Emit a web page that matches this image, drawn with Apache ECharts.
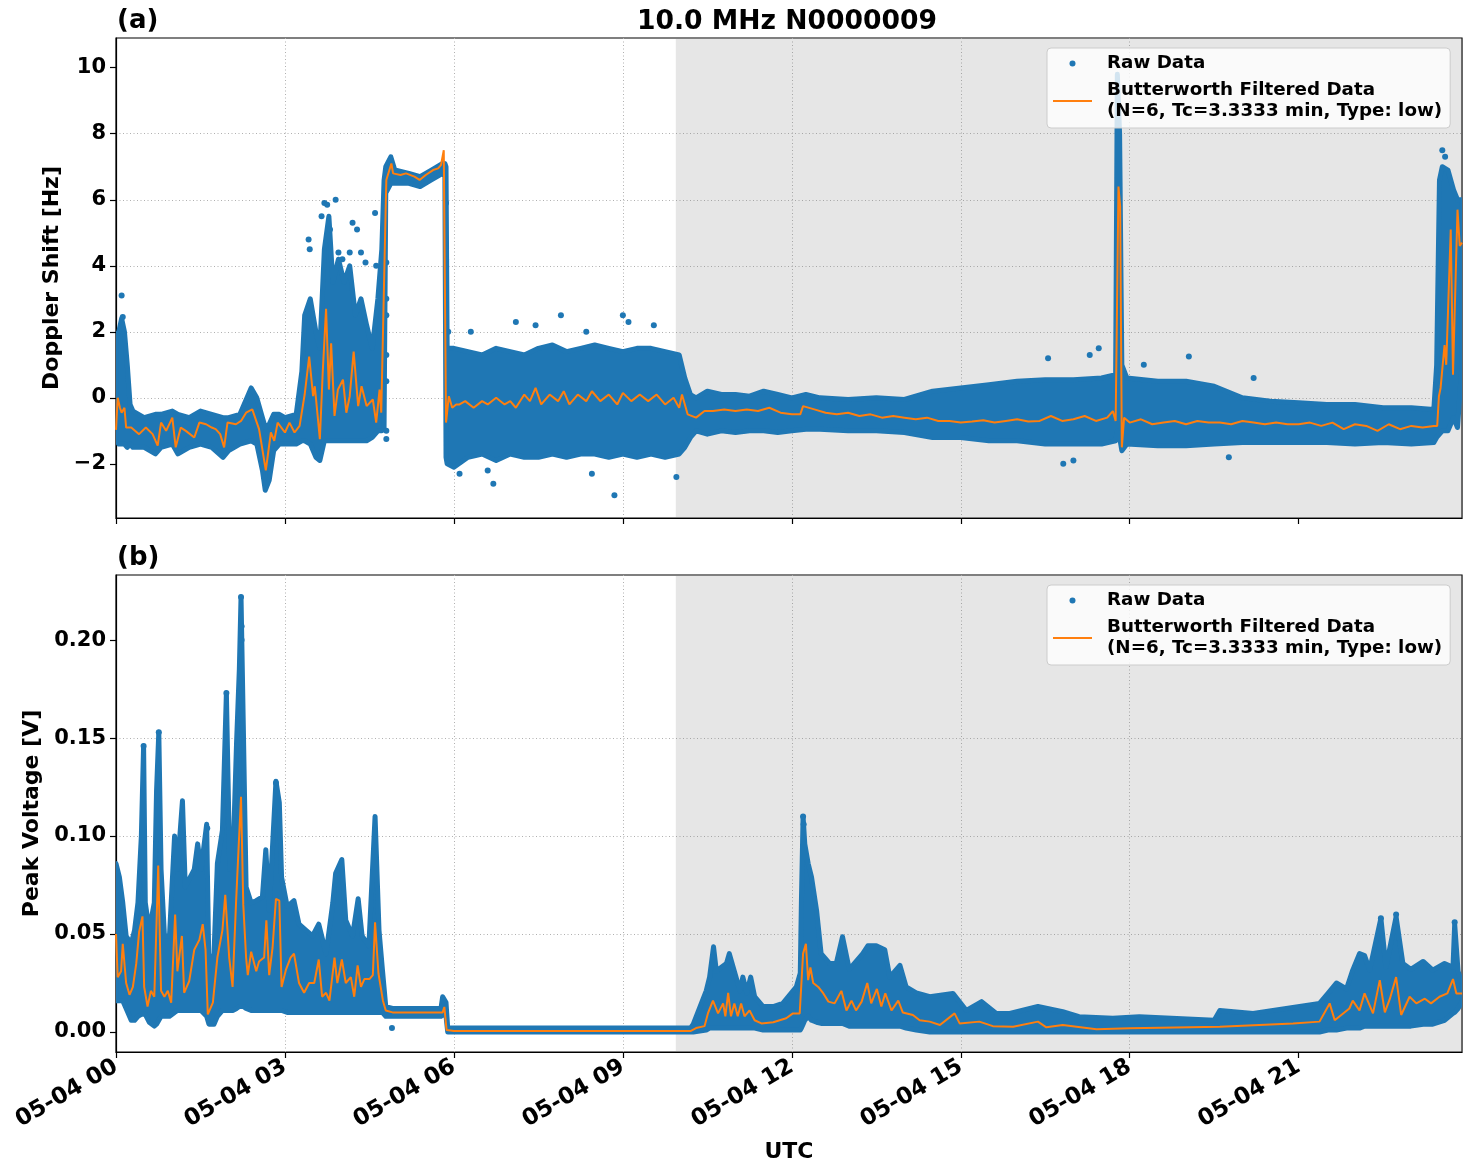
<!DOCTYPE html>
<html>
<head>
<meta charset="utf-8">
<script src="https://cdn.jsdelivr.net/npm/echarts@6/dist/echarts.min.js"></script>
<style>
  html, body { margin: 0; padding: 0; background: #fff; }
  #chart { width: 1472px; height: 1172px; }
</style>
</head>
<body>
<div id="chart"></div>
<script>
// time is in hours after 05-04 00:00 UTC
const tEnd = 23.9
const nightEnd = 9.94   // start of the grey band
const hourTicks = [0, 3, 6, 9, 12, 15, 18, 21]
const dopplerTicks = [-2, 0, 2, 4, 6, 8, 10]
const voltTicks = [0, 0.05, 0.10, 0.15, 0.20]

// (a) raw doppler: envelope of the dense dots (time, low, high)
const rawTimeA = [0.00, 0.05, 0.10, 0.15, 0.20, 0.25, 0.30, 0.50, 0.70, 0.80, 1.00, 1.10, 1.30, 1.50, 1.70, 1.90, 2.00, 2.20, 2.40, 2.50, 2.60, 2.65, 2.72, 2.80, 2.90, 3.00, 3.20, 3.30, 3.35, 3.45, 3.55, 3.62, 3.70, 3.78, 3.85, 3.95, 4.05, 4.15, 4.25, 4.35, 4.45, 4.55, 4.65, 4.72, 4.76, 4.79, 4.88, 4.95, 5.20, 5.40, 5.60, 5.80, 5.84, 5.86, 5.88, 6.00, 6.25, 6.50, 6.75, 7.00, 7.25, 7.50, 7.75, 8.00, 8.25, 8.50, 8.75, 9.00, 9.25, 9.50, 9.75, 10.00, 10.10, 10.20, 10.30, 10.50, 10.75, 11.00, 11.25, 11.50, 11.75, 12.00, 12.25, 12.50, 13.00, 13.50, 14.00, 14.50, 15.00, 15.50, 16.00, 16.50, 17.00, 17.50, 17.75, 17.78, 17.82, 17.86, 17.95, 18.50, 19.00, 19.50, 20.00, 20.50, 21.00, 21.50, 22.00, 22.50, 23.00, 23.40, 23.45, 23.50, 23.55, 23.65, 23.75, 23.82, 23.90]
const rawLowA = [-1.3, -1.4, -1.4, -1.4, -1.5, -1.4, -1.5, -1.5, -1.7, -1.5, -1.4, -1.7, -1.5, -1.4, -1.5, -1.8, -1.6, -1.4, -1.3, -1.4, -2.2, -2.8, -2.5, -1.6, -1.4, -1.4, -1.4, -1.3, -1.3, -1.4, -1.8, -1.9, -1.3, -1.3, -1.3, -1.3, -1.3, -1.3, -1.3, -1.3, -1.3, -1.2, -1.0, -1.0, -0.9, 6.2, 6.5, 6.5, 6.5, 6.4, 6.6, 6.8, 6.7, -1.8, -2.0, -2.1, -1.8, -1.7, -1.9, -1.7, -1.8, -1.8, -1.7, -1.8, -1.7, -1.7, -1.8, -1.7, -1.8, -1.7, -1.8, -1.7, -1.5, -1.2, -1.0, -1.1, -1.0, -1.05, -1.0, -1.0, -1.05, -1.0, -0.95, -0.95, -1.0, -1.0, -1.05, -1.2, -1.2, -1.3, -1.3, -1.4, -1.4, -1.4, -1.3, -1.0, -1.2, -1.6, -1.4, -1.45, -1.45, -1.4, -1.35, -1.35, -1.35, -1.35, -1.4, -1.35, -1.4, -1.35, -1.2, -1.1, -1.0, -1.0, -0.6, -0.9, 1.0]
const rawHighA = [1.9, 2.0, 2.4, 2.0, 1.0, -0.2, -0.4, -0.6, -0.5, -0.5, -0.4, -0.5, -0.6, -0.4, -0.5, -0.6, -0.6, -0.5, 0.3, 0.0, -0.6, -0.9, -0.8, -0.5, -0.5, -0.6, -0.5, 0.8, 2.5, 3.0, 2.0, 1.5, 4.5, 5.5, 3.5, 4.2, 3.5, 4.0, 2.5, 3.0, 2.2, 1.5, 3.0, 4.5, 6.6, 7.0, 7.3, 6.9, 6.8, 6.7, 6.9, 7.1, 7.1, 7.0, 1.5, 1.5, 1.4, 1.3, 1.5, 1.4, 1.3, 1.5, 1.6, 1.4, 1.5, 1.6, 1.5, 1.4, 1.5, 1.5, 1.4, 1.3, 0.6, 0.1, 0.0, 0.2, 0.1, 0.1, 0.05, 0.2, 0.1, 0.0, 0.1, 0.0, -0.05, 0.0, -0.05, 0.2, 0.3, 0.4, 0.5, 0.55, 0.55, 0.6, 0.7, 9.8, 8.0, 1.0, 0.6, 0.5, 0.5, 0.35, 0.0, -0.1, -0.15, -0.2, -0.2, -0.3, -0.3, -0.35, 1.0, 6.6, 7.0, 6.9, 6.3, 6.0, 6.0]
// (a) isolated raw dots outside the envelope
const rawDotsA = [[0.10, 3.1], [0.12, 2.45], [3.42, 4.8], [3.44, 4.5], [3.65, 5.5], [3.70, 5.9], [3.75, 5.85], [3.80, 5.1], [3.90, 6.0], [3.95, 4.4], [4.02, 4.2], [4.15, 4.4], [4.20, 5.3], [4.28, 5.1], [4.35, 4.4], [4.43, 4.1], [4.60, 5.6], [4.62, 4.0], [4.80, 4.1], [4.80, 3.0], [4.80, 2.5], [4.80, 1.3], [4.80, 0.5], [4.80, -1.0], [4.80, -1.25], [5.86, 5.9], [5.86, 4.2], [5.86, 2.3], [5.90, 2.0], [6.30, 2.0], [6.10, -2.3], [6.60, -2.2], [6.70, -2.6], [7.10, 2.3], [7.45, 2.2], [7.90, 2.5], [8.35, 2.0], [8.45, -2.3], [8.85, -2.95], [9.00, 2.5], [9.10, 2.3], [9.55, 2.2], [9.95, -2.4], [16.55, 1.2], [16.82, -2.0], [17.29, 1.3], [17.45, 1.5], [17.00, -1.9], [18.25, 1.0], [19.05, 1.25], [19.76, -1.8], [20.20, 0.6], [23.55, 7.5], [23.60, 7.3]]

// (a) Butterworth filtered doppler
const filtTimeA = [0.00, 0.03, 0.07, 0.10, 0.15, 0.18, 0.27, 0.41, 0.53, 0.65, 0.74, 0.80, 0.89, 1.00, 1.06, 1.15, 1.24, 1.39, 1.48, 1.60, 1.70, 1.77, 1.85, 1.92, 1.98, 2.13, 2.22, 2.31, 2.42, 2.54, 2.66, 2.75, 2.81, 2.87, 3.00, 3.08, 3.17, 3.26, 3.35, 3.43, 3.50, 3.53, 3.62, 3.67, 3.73, 3.78, 3.82, 3.88, 3.94, 4.03, 4.09, 4.15, 4.22, 4.30, 4.36, 4.45, 4.56, 4.62, 4.68, 4.71, 4.77, 4.80, 4.89, 4.92, 5.05, 5.15, 5.30, 5.39, 5.50, 5.63, 5.72, 5.77, 5.82, 5.86, 5.91, 5.97, 6.04, 6.10, 6.20, 6.35, 6.50, 6.60, 6.75, 6.90, 7.00, 7.10, 7.25, 7.35, 7.45, 7.55, 7.70, 7.85, 7.95, 8.05, 8.20, 8.35, 8.45, 8.60, 8.75, 8.90, 9.00, 9.15, 9.30, 9.45, 9.60, 9.75, 9.90, 10.00, 10.05, 10.15, 10.30, 10.45, 10.60, 10.80, 11.00, 11.20, 11.40, 11.60, 11.80, 12.00, 12.15, 12.20, 12.40, 12.60, 12.80, 13.00, 13.20, 13.40, 13.60, 13.80, 14.00, 14.20, 14.40, 14.60, 14.80, 15.00, 15.20, 15.40, 15.60, 15.80, 16.00, 16.20, 16.40, 16.60, 16.80, 17.00, 17.20, 17.40, 17.60, 17.70, 17.75, 17.80, 17.83, 17.86, 17.90, 18.00, 18.20, 18.40, 18.60, 18.80, 19.00, 19.20, 19.40, 19.60, 19.80, 20.00, 20.20, 20.40, 20.60, 20.80, 21.00, 21.20, 21.40, 21.60, 21.80, 22.00, 22.20, 22.40, 22.60, 22.80, 23.00, 23.20, 23.40, 23.46, 23.49, 23.52, 23.59, 23.62, 23.70, 23.74, 23.77, 23.82, 23.86, 23.90]
const filtValA = [-0.97, 0.0, -0.3, -0.45, -0.3, -0.9, -0.9, -1.1, -0.9, -1.1, -1.45, -0.75, -1.0, -0.6, -1.5, -0.9, -1.0, -1.2, -0.75, -0.8, -0.9, -0.95, -1.1, -1.5, -0.75, -0.8, -0.7, -0.45, -0.35, -0.95, -2.2, -1.05, -1.3, -0.75, -1.05, -0.75, -1.05, -0.85, 0.1, 1.25, 0.05, 0.35, -1.25, 0.75, 2.7, 0.25, 1.65, -0.55, 0.25, 0.55, -0.45, 0.05, 1.4, -0.25, 0.35, -0.25, -0.05, -0.75, 0.25, -0.45, 4.3, 6.6, 7.1, 6.8, 6.75, 6.8, 6.7, 6.6, 6.75, 6.9, 6.95, 7.05, 7.5, -0.75, 0.05, -0.3, -0.2, -0.2, -0.1, -0.3, -0.1, -0.2, 0.0, -0.2, -0.1, -0.3, 0.1, -0.1, 0.3, -0.2, 0.1, -0.1, 0.2, -0.2, 0.1, -0.1, 0.2, -0.1, 0.1, -0.2, 0.15, -0.1, 0.1, -0.1, 0.1, -0.2, 0.0, -0.3, 0.1, -0.5, -0.6, -0.4, -0.4, -0.35, -0.4, -0.35, -0.4, -0.3, -0.45, -0.5, -0.5, -0.25, -0.35, -0.45, -0.5, -0.45, -0.55, -0.5, -0.6, -0.55, -0.6, -0.65, -0.6, -0.7, -0.7, -0.75, -0.72, -0.68, -0.75, -0.7, -0.65, -0.72, -0.7, -0.55, -0.7, -0.65, -0.55, -0.7, -0.6, -0.4, -0.7, 6.4, 5.8, -1.5, -0.6, -0.75, -0.65, -0.8, -0.75, -0.7, -0.8, -0.7, -0.75, -0.75, -0.8, -0.7, -0.75, -0.8, -0.75, -0.8, -0.8, -0.75, -0.85, -0.75, -0.95, -0.8, -0.85, -1.0, -0.8, -0.95, -0.85, -0.9, -0.85, -0.85, 0.05, 0.3, 1.6, 1.0, 5.1, 0.7, 0.7, 5.7, 4.6, 4.7]

// (b) raw peak voltage envelope
const rawTimeB = [0.00, 0.06, 0.12, 0.18, 0.27, 0.33, 0.39, 0.45, 0.49, 0.52, 0.59, 0.68, 0.72, 0.76, 0.80, 0.86, 0.95, 1.04, 1.09, 1.18, 1.23, 1.30, 1.39, 1.45, 1.51, 1.61, 1.65, 1.74, 1.80, 1.89, 1.96, 2.02, 2.08, 2.14, 2.19, 2.22, 2.26, 2.31, 2.40, 2.49, 2.60, 2.66, 2.72, 2.84, 2.90, 2.94, 3.04, 3.16, 3.25, 3.37, 3.49, 3.60, 3.73, 3.85, 3.90, 4.01, 4.08, 4.20, 4.30, 4.37, 4.49, 4.60, 4.67, 4.73, 4.79, 4.91, 5.77, 5.80, 5.86, 5.89, 10.20, 10.25, 10.48, 10.54, 10.61, 10.66, 10.75, 10.84, 10.89, 10.96, 11.08, 11.13, 11.20, 11.27, 11.34, 11.49, 11.67, 11.84, 12.08, 12.15, 12.17, 12.20, 12.23, 12.29, 12.35, 12.44, 12.52, 12.67, 12.79, 12.90, 13.02, 13.26, 13.35, 13.50, 13.65, 13.74, 13.92, 14.03, 14.21, 14.45, 14.86, 15.10, 15.37, 15.63, 15.87, 16.37, 16.81, 17.10, 17.70, 18.17, 19.50, 19.60, 20.19, 20.78, 21.37, 21.52, 21.67, 21.85, 21.96, 22.08, 22.17, 22.26, 22.46, 22.55, 22.73, 22.85, 22.99, 23.21, 23.38, 23.59, 23.74, 23.77, 23.83, 23.90]
const rawLowB = [0.016, 0.016, 0.016, 0.012, 0.006, 0.006, 0.008, 0.009, 0.009, 0.009, 0.005, 0.003, 0.004, 0.006, 0.008, 0.008, 0.008, 0.010, 0.011, 0.011, 0.011, 0.011, 0.011, 0.011, 0.011, 0.008, 0.004, 0.004, 0.008, 0.011, 0.011, 0.011, 0.011, 0.012, 0.013, 0.013, 0.013, 0.012, 0.011, 0.011, 0.011, 0.011, 0.011, 0.011, 0.011, 0.011, 0.010, 0.010, 0.010, 0.010, 0.010, 0.010, 0.010, 0.010, 0.010, 0.010, 0.010, 0.010, 0.010, 0.010, 0.010, 0.010, 0.010, 0.010, 0.008, 0.008, 0.008, 0.009, 0.008, 0.000, 0.000, 0.000, 0.001, 0.002, 0.002, 0.002, 0.002, 0.002, 0.002, 0.002, 0.002, 0.002, 0.002, 0.002, 0.002, 0.001, 0.001, 0.001, 0.001, 0.001, 0.002, 0.004, 0.006, 0.008, 0.006, 0.005, 0.0044, 0.0044, 0.0044, 0.0044, 0.003, 0.003, 0.003, 0.003, 0.003, 0.003, 0.003, 0.002, 0.001, 0.000, 0.000, 0.000, 0.000, 0.000, 0.000, 0.000, 0.000, 0.000, 0.000, 0.000, 0.000, 0.000, 0.000, 0.000, 0.000, 0.001, 0.001, 0.002, 0.002, 0.002, 0.003, 0.003, 0.003, 0.003, 0.003, 0.003, 0.003, 0.004, 0.004, 0.006, 0.0095, 0.010, 0.012, 0.0155]
const rawHighB = [0.086, 0.079, 0.066, 0.049, 0.045, 0.052, 0.066, 0.100, 0.146, 0.066, 0.052, 0.066, 0.123, 0.153, 0.083, 0.049, 0.049, 0.100, 0.083, 0.118, 0.074, 0.078, 0.083, 0.096, 0.083, 0.106, 0.032, 0.040, 0.086, 0.103, 0.173, 0.083, 0.091, 0.147, 0.185, 0.222, 0.157, 0.074, 0.066, 0.067, 0.069, 0.093, 0.062, 0.128, 0.117, 0.079, 0.064, 0.067, 0.055, 0.052, 0.049, 0.055, 0.040, 0.066, 0.081, 0.088, 0.057, 0.049, 0.068, 0.049, 0.044, 0.110, 0.052, 0.032, 0.013, 0.012, 0.012, 0.018, 0.015, 0.002, 0.002, 0.004, 0.021, 0.028, 0.0435, 0.031, 0.033, 0.035, 0.040, 0.033, 0.021, 0.028, 0.020, 0.028, 0.018, 0.013, 0.013, 0.0146, 0.023, 0.030, 0.066, 0.110, 0.096, 0.086, 0.079, 0.062, 0.040, 0.035, 0.035, 0.0486, 0.032, 0.040, 0.044, 0.044, 0.042, 0.028, 0.034, 0.023, 0.020, 0.018, 0.0197, 0.011, 0.0155, 0.0095, 0.0095, 0.013, 0.0104, 0.0078, 0.007, 0.0078, 0.006, 0.011, 0.0095, 0.012, 0.0146, 0.0197, 0.025, 0.022, 0.0316, 0.040, 0.039, 0.0316, 0.058, 0.033, 0.0588, 0.035, 0.032, 0.036, 0.0316, 0.035, 0.033, 0.055, 0.031, 0.025]
const rawDotsB = [[2.22, 0.222], [2.23, 0.207], [2.23, 0.200], [0.76, 0.153], [0.49, 0.146], [1.96, 0.173], [2.84, 0.127], [12.20, 0.110], [12.21, 0.106], [4.90, 0.002], [1.62, 0.104], [22.46, 0.058], [22.73, 0.060], [23.77, 0.056]]

// (b) Butterworth filtered peak voltage
const filtTimeB = [0.00, 0.03, 0.09, 0.12, 0.18, 0.24, 0.30, 0.36, 0.41, 0.47, 0.50, 0.56, 0.62, 0.68, 0.75, 0.80, 0.86, 0.92, 0.98, 1.05, 1.09, 1.17, 1.21, 1.30, 1.39, 1.48, 1.54, 1.59, 1.63, 1.72, 1.80, 1.89, 1.94, 2.01, 2.07, 2.13, 2.18, 2.22, 2.26, 2.31, 2.34, 2.40, 2.49, 2.54, 2.63, 2.67, 2.72, 2.78, 2.84, 2.90, 2.94, 3.02, 3.10, 3.16, 3.25, 3.34, 3.43, 3.52, 3.60, 3.66, 3.73, 3.79, 3.88, 3.93, 4.01, 4.08, 4.17, 4.23, 4.29, 4.35, 4.41, 4.50, 4.56, 4.60, 4.66, 4.74, 4.79, 4.91, 5.40, 5.80, 5.83, 5.87, 6.00, 10.20, 10.30, 10.45, 10.51, 10.60, 10.69, 10.78, 10.82, 10.87, 10.92, 10.98, 11.04, 11.10, 11.16, 11.25, 11.34, 11.46, 11.67, 11.90, 12.02, 12.14, 12.20, 12.25, 12.29, 12.33, 12.38, 12.47, 12.56, 12.65, 12.76, 12.88, 12.97, 13.06, 13.14, 13.24, 13.34, 13.41, 13.51, 13.59, 13.66, 13.77, 13.89, 13.97, 14.15, 14.27, 14.45, 14.63, 14.89, 14.98, 15.33, 15.57, 15.93, 16.37, 16.52, 16.81, 17.41, 18.00, 19.60, 20.90, 21.37, 21.55, 21.64, 21.90, 21.96, 22.08, 22.17, 22.32, 22.44, 22.53, 22.62, 22.73, 22.82, 22.97, 23.09, 23.24, 23.35, 23.50, 23.64, 23.74, 23.80, 23.90]
const filtValB = [0.050, 0.028, 0.031, 0.045, 0.025, 0.019, 0.023, 0.035, 0.051, 0.059, 0.023, 0.013, 0.021, 0.018, 0.085, 0.021, 0.018, 0.021, 0.015, 0.060, 0.031, 0.049, 0.020, 0.026, 0.042, 0.047, 0.055, 0.042, 0.009, 0.015, 0.038, 0.052, 0.070, 0.038, 0.023, 0.065, 0.096, 0.120, 0.065, 0.038, 0.029, 0.041, 0.031, 0.036, 0.038, 0.057, 0.029, 0.043, 0.068, 0.067, 0.023, 0.032, 0.038, 0.040, 0.025, 0.020, 0.025, 0.025, 0.037, 0.018, 0.020, 0.016, 0.038, 0.025, 0.037, 0.025, 0.028, 0.018, 0.034, 0.023, 0.027, 0.027, 0.029, 0.056, 0.030, 0.016, 0.011, 0.010, 0.010, 0.010, 0.0128, 0.001, 0.0005, 0.0005, 0.002, 0.003, 0.0095, 0.016, 0.0095, 0.0146, 0.008, 0.020, 0.008, 0.0146, 0.008, 0.0146, 0.008, 0.011, 0.006, 0.0044, 0.005, 0.007, 0.0095, 0.0095, 0.040, 0.045, 0.0265, 0.033, 0.025, 0.023, 0.0197, 0.0155, 0.0146, 0.021, 0.011, 0.016, 0.011, 0.0155, 0.025, 0.0146, 0.022, 0.013, 0.0197, 0.011, 0.016, 0.010, 0.0087, 0.006, 0.0053, 0.0036, 0.0095, 0.0044, 0.0053, 0.003, 0.0027, 0.0053, 0.0024, 0.0036, 0.0014, 0.0019, 0.0027, 0.0044, 0.0053, 0.0146, 0.006, 0.012, 0.016, 0.011, 0.0197, 0.0095, 0.0265, 0.010, 0.017, 0.028, 0.0087, 0.018, 0.0146, 0.017, 0.0146, 0.018, 0.0197, 0.027, 0.0197, 0.0197]

const BLUE = '#1f77b4'
const ORANGE = '#ff7f0e'
const FONT = 'DejaVu Sans'
const RAW = 'Raw Data'
const FILT = 'Butterworth Filtered Data\n(N=6, Tc=3.3333 min, Type: low)'

function zip(a, b) {
  return a.map((v, i) => [v, b[i]])
}

// dense dots drawn as one filled envelope
function bandSeries(idx, ts, lo, hi) {
  return {
    type: 'custom',
    name: RAW,
    xAxisIndex: idx,
    yAxisIndex: idx,
    clip: true,
    z: 3,
    itemStyle: { color: BLUE },
    data: [[ts[0], lo[0]]],
    renderItem: function (params, api) {
      const pts = []
      for (let i = 0; i < ts.length; i++) pts.push(api.coord([ts[i], hi[i]]))
      for (let i = ts.length - 1; i >= 0; i--) pts.push(api.coord([ts[i], lo[i]]))
      return {
        type: 'polygon',
        shape: { points: pts },
        style: { fill: BLUE, stroke: BLUE, lineWidth: 5, lineJoin: 'round' }
      }
    }
  }
}

function dotSeries(idx, dots) {
  return {
    type: 'scatter',
    name: RAW,
    xAxisIndex: idx,
    yAxisIndex: idx,
    z: 3,
    symbolSize: 6,
    itemStyle: { color: BLUE, opacity: 1 },
    data: dots
  }
}

function filtSeries(idx, ts, vs) {
  return {
    type: 'line',
    name: FILT,
    xAxisIndex: idx,
    yAxisIndex: idx,
    z: 4,
    showSymbol: false,
    symbol: 'none',
    lineStyle: { color: ORANGE, width: 2 },
    itemStyle: { color: ORANGE },
    data: zip(ts, vs),
    markArea: {
      silent: true,
      itemStyle: { color: 'rgba(128,128,128,0.2)' },
      data: [[{ xAxis: nightEnd }, { xAxis: tEnd }]]
    }
  }
}

const gridLine = { show: true, showMinLine: false, showMaxLine: false, lineStyle: { color: '#b0b0b0', width: 1, type: [1, 2.5] } }

function xAxis(idx, showLabels) {
  return {
    type: 'value',
    gridIndex: idx,
    min: 0,
    max: tEnd,
    interval: 3,
    name: showLabels ? 'UTC' : '',
    nameLocation: 'middle',
    nameGap: 89,
    nameTextStyle: { fontFamily: FONT, fontWeight: 'bold', fontSize: 22, color: '#000' },
    axisLine: { show: true, onZero: false, lineStyle: { color: '#000', width: 1.2 } },
    axisTick: { show: true, length: 6, customValues: hourTicks, lineStyle: { color: '#000', width: 1.2 } },
    axisLabel: {
      show: showLabels,
      customValues: hourTicks,
      rotate: 30,
      margin: 13,
      fontFamily: FONT,
      fontWeight: 'bold',
      fontSize: 23,
      color: '#000',
      formatter: v => '05-04 ' + String(Math.round(v)).padStart(2, '0')
    },
    splitLine: gridLine
  }
}

function yAxis(idx, min, max, ticks, name, gap, fmt) {
  return {
    type: 'value',
    gridIndex: idx,
    min: min,
    max: max,
    splitNumber: ticks.length,
    name: name,
    nameLocation: 'middle',
    nameGap: gap,
    nameTextStyle: { fontFamily: FONT, fontWeight: 'bold', fontSize: 22, color: '#000' },
    axisLine: { show: true, onZero: false, lineStyle: { color: '#000', width: 1.2 } },
    axisTick: { show: true, length: 6, customValues: ticks, lineStyle: { color: '#000', width: 1.2 } },
    axisLabel: {
      customValues: ticks,
      margin: 10,
      fontFamily: FONT,
      fontWeight: 'bold',
      fontSize: 21,
      color: '#000',
      formatter: fmt
    },
    splitLine: gridLine
  }
}

function legend(top) {
  return {
    orient: 'vertical',
    left: 1047,
    top: top,
    padding: [5, 8, 6, 6],
    itemGap: 6,
    itemWidth: 39,
    itemHeight: 6,
    backgroundColor: 'rgba(255,255,255,0.8)',
    borderColor: '#cccccc',
    borderWidth: 1,
    borderRadius: 4,
    selectedMode: false,
    textStyle: { fontFamily: FONT, fontWeight: 'bold', fontSize: 18.3, lineHeight: 21, color: '#000', padding: [0, 0, 0, 10] },
    data: [
      { name: RAW, icon: 'circle', itemStyle: { color: BLUE } },
      { name: FILT, icon: 'path://M0,0 L40,0 L40,2 L0,2 Z', itemStyle: { color: ORANGE } }
    ]
  }
}

const chart = echarts.init(document.getElementById('chart'), null, { renderer: 'canvas' })
chart.setOption({
  animation: false,
  backgroundColor: '#fff',
  title: [
    { text: '10.0 MHz N0000009', left: 782, textAlign: 'center', top: 4, textStyle: { fontFamily: FONT, fontWeight: 'bold', fontSize: 26.6, color: '#000' } },
    { text: '(a)', left: 112, top: 3, textStyle: { fontFamily: FONT, fontWeight: 'bold', fontSize: 26, color: '#000' } },
    { text: '(b)', left: 112, top: 540, textStyle: { fontFamily: FONT, fontWeight: 'bold', fontSize: 26, color: '#000' } }
  ],
  legend: [legend(48), legend(585)],
  grid: [
    { left: 116, right: 10, top: 38, height: 480, show: true, borderColor: '#000', borderWidth: 1.2, backgroundColor: 'transparent' },
    { left: 116, right: 10, top: 575, height: 477, show: true, borderColor: '#000', borderWidth: 1.2, backgroundColor: 'transparent' }
  ],
  xAxis: [xAxis(0, false), xAxis(1, true)],
  yAxis: [
    yAxis(0, -3.64, 10.9, dopplerTicks, 'Doppler Shift [Hz]', 42, v => (v < 0 ? '\u2212' + Math.abs(v) : String(v))),
    yAxis(1, -0.0102, 0.2332, voltTicks, 'Peak Voltage [V]', 63, v => v.toFixed(2))
  ],
  series: [
    bandSeries(0, rawTimeA, rawLowA, rawHighA),
    dotSeries(0, rawDotsA),
    filtSeries(0, filtTimeA, filtValA),
    bandSeries(1, rawTimeB, rawLowB, rawHighB),
    dotSeries(1, rawDotsB),
    filtSeries(1, filtTimeB, filtValB)
  ]
})
</script>
</body>
</html>
